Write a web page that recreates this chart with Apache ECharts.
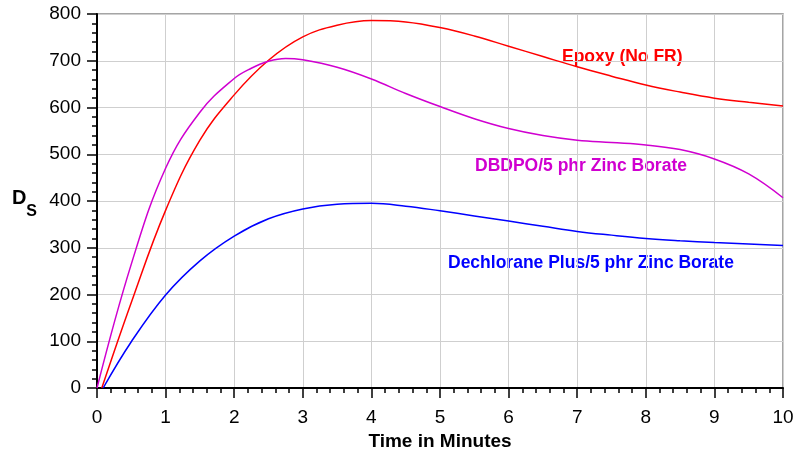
<!DOCTYPE html>
<html>
<head>
<meta charset="utf-8">
<script src="https://cdn.jsdelivr.net/npm/echarts@6/dist/echarts.min.js"></script>
<style>
  html, body { margin: 0; padding: 0; background: #fff; }
  #chart { width: 797px; height: 461px; }
</style>
</head>
<body>
<div id="chart"></div>
<script>
// time (minutes) / Ds readings taken off the plot
var epoxyT = [0.07, 0.5, 1, 1.5, 2, 2.5, 3, 3.5, 4, 4.5, 5, 5.5, 6, 6.5, 7, 7.5, 8, 8.5, 9, 9.5, 10];
var epoxyDs = [0, 183, 380, 530, 627, 701, 751, 776, 786, 783, 771, 753, 731, 709, 687, 667, 648, 633, 620, 611, 603];

var dbdpoT = [0, 0.5, 1, 1.5, 2, 2.25, 2.5, 2.75, 3, 3.5, 4, 4.5, 5, 5.5, 6, 6.5, 7, 7.5, 8, 8.5, 9, 9.5, 10];
var dbdpoDs = [0, 265, 470, 590, 662, 684, 699, 705, 702, 686, 661, 630, 602, 576, 555, 540, 530, 525, 520, 510, 490, 458, 407];

var dechT = [0.09, 0.5, 1, 1.5, 2, 2.5, 3, 3.5, 4, 4.5, 5, 5.5, 6, 6.5, 7, 7.5, 8, 8.5, 9, 9.5, 10];
var dechDs = [0, 99, 199, 272, 325, 362, 383, 393, 395, 389, 379, 368, 357, 346, 335, 327, 320, 315, 311, 308, 305];

var xTicks = [0, 1, 2, 3, 4, 5, 6, 7, 8, 9, 10];
var yTicks = [0, 100, 200, 300, 400, 500, 600, 700, 800];

function pairs(t, v) {
  var out = [];
  for (var i = 0; i < t.length; i++) out.push([t[i], v[i]]);
  return out;
}

var chart = echarts.init(document.getElementById('chart'));

var labelFont = 'bold 17.5px "Liberation Sans"';

var option = {
  backgroundColor: '#fff',
  animation: false,
  grid: {
    left: 97, right: 14, top: 14, bottom: 73,
    show: true,
    borderColor: '#888',
    borderWidth: 1.5
  },
  xAxis: {
    type: 'value',
    min: xTicks[0],
    max: xTicks[xTicks.length - 1],
    interval: 1,
    name: 'Time in Minutes',
    nameLocation: 'middle',
    nameGap: 43,
    nameTextStyle: { fontFamily: 'Liberation Sans', fontWeight: 'bold', fontSize: 19, color: '#000' },
    axisLine: { lineStyle: { color: '#000', width: 2 } },
    axisTick: { length: 10, lineStyle: { color: '#000', width: 1.5 } },
    minorTick: { show: true, splitNumber: 5, length: 5, lineStyle: { color: '#000', width: 1.5 } },
    axisLabel: { fontFamily: 'Liberation Sans', fontSize: 19, color: '#000', margin: 20 },
    splitLine: { show: true, lineStyle: { color: '#cfcfcf', width: 1 } }
  },
  yAxis: {
    type: 'value',
    min: yTicks[0],
    max: yTicks[yTicks.length - 1],
    interval: 100,
    name: '{d|D}{s|S}',
    nameLocation: 'middle',
    nameRotate: 0,
    nameGap: 60,
    nameTextStyle: {
      padding: [6, 0, 0, 0],
      rich: {
        d: { fontFamily: 'Liberation Sans', fontWeight: 'bold', fontSize: 20, color: '#000', verticalAlign: 'top' },
        s: { fontFamily: 'Liberation Sans', fontWeight: 'bold', fontSize: 16, color: '#000', verticalAlign: 'bottom', padding: [16, 0, 0, 0] }
      }
    },
    axisLine: { show: true, lineStyle: { color: '#000', width: 2 } },
    axisTick: { show: true, length: 10, lineStyle: { color: '#000', width: 1.5 } },
    minorTick: { show: true, splitNumber: 5, length: 5, lineStyle: { color: '#000', width: 1.5 } },
    axisLabel: { fontFamily: 'Liberation Sans', fontSize: 19, color: '#000', margin: 16 },
    splitLine: { show: true, lineStyle: { color: '#cfcfcf', width: 1 } }
  },
  series: [
    {
      name: 'Epoxy (No FR)', type: 'line', smooth: 0.4, showSymbol: false,
      data: pairs(epoxyT, epoxyDs),
      lineStyle: { color: '#ff0000', width: 1.5 }
    },
    {
      name: 'DBDPO/5 phr Zinc Borate', type: 'line', smooth: 0.4, showSymbol: false,
      data: pairs(dbdpoT, dbdpoDs),
      lineStyle: { color: '#d000d0', width: 1.5 }
    },
    {
      name: 'Dechlorane Plus/5 phr Zinc Borate', type: 'line', smooth: 0.4, showSymbol: false,
      data: pairs(dechT, dechDs),
      lineStyle: { color: '#0000ff', width: 1.5 }
    }
  ],
  graphic: [
    { type: 'text', x: 562, y: 57, style: { text: 'Epoxy (No FR)', fill: '#ff0000', font: labelFont, verticalAlign: 'middle' } },
    { type: 'text', x: 475, y: 166, style: { text: 'DBDPO/5 phr Zinc Borate', fill: '#d000d0', font: labelFont, verticalAlign: 'middle' } },
    { type: 'text', x: 448, y: 263, style: { text: 'Dechlorane Plus/5 phr Zinc Borate', fill: '#0000ff', font: labelFont, verticalAlign: 'middle' } }
  ]
};

chart.setOption(option);
</script>
</body>
</html>
